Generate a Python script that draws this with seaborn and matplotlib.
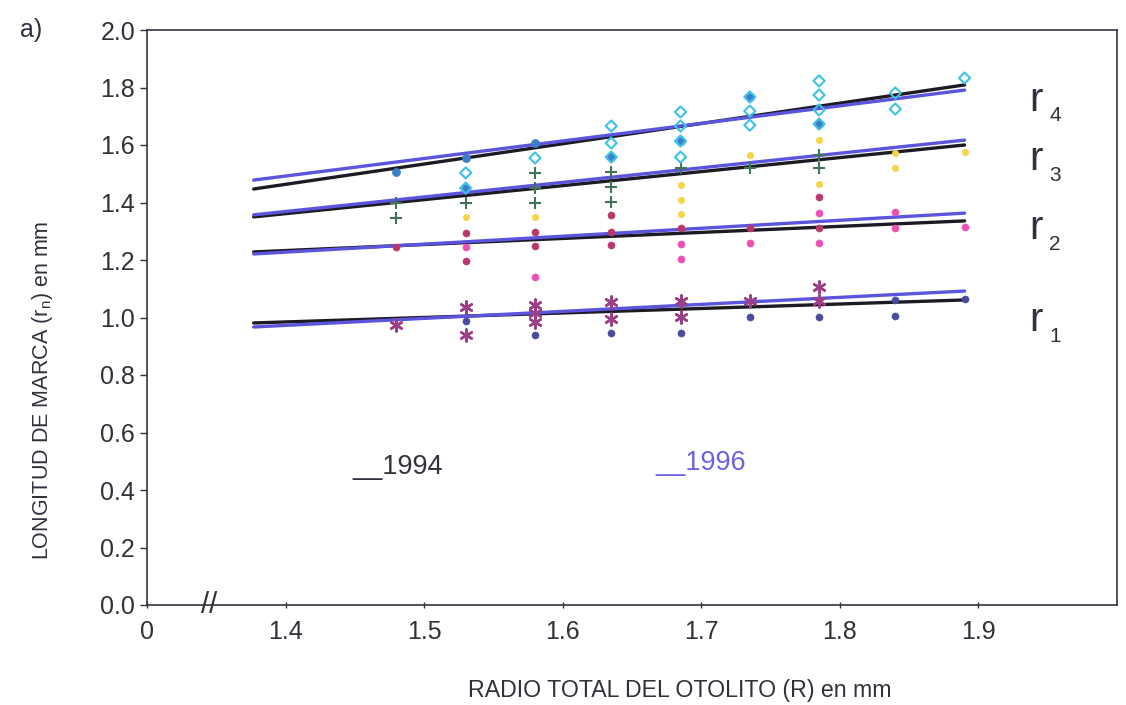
import matplotlib
matplotlib.use("Agg")
import matplotlib.pyplot as plt
import seaborn as sns
import pandas as pd

# ---- measurements: total otolith radius R (mm) vs ring length r_n (mm) ----
# r1
r1_1994_R = [1.53, 1.58, 1.635, 1.685, 1.735, 1.785, 1.84, 1.84, 1.89]
r1_1994_v = [0.988, 0.940, 0.946, 0.946, 1.002, 1.002, 1.061, 1.005, 1.064]
r1_1996_R = [1.48, 1.53, 1.53, 1.58, 1.58, 1.58, 1.635, 1.635, 1.685, 1.685, 1.735, 1.785, 1.785]
r1_1996_v = [0.975, 1.037, 0.939, 1.043, 1.016, 0.985, 1.054, 0.996, 1.057, 1.002, 1.057, 1.106, 1.057]
# r2
r2_1994_R = [1.48, 1.53, 1.53, 1.58, 1.58, 1.635, 1.635, 1.635, 1.685, 1.735, 1.785, 1.785]
r2_1994_v = [1.245, 1.294, 1.197, 1.297, 1.249, 1.357, 1.297, 1.252, 1.311, 1.311, 1.419, 1.311]
r2_1996_R = [1.53, 1.58, 1.685, 1.685, 1.735, 1.785, 1.785, 1.84, 1.84, 1.89]
r2_1996_v = [1.245, 1.141, 1.256, 1.203, 1.259, 1.364, 1.259, 1.367, 1.311, 1.315]
# r3
r3_1994_R = [1.48, 1.48, 1.53, 1.58, 1.58, 1.58, 1.635, 1.635, 1.635, 1.685, 1.735, 1.785, 1.785]
r3_1994_v = [1.398, 1.345, 1.398, 1.503, 1.450, 1.398, 1.506, 1.454, 1.402, 1.520, 1.520, 1.565, 1.520]
r3_1996_R = [1.53, 1.58, 1.685, 1.685, 1.685, 1.735, 1.785, 1.785, 1.84, 1.84, 1.89]
r3_1996_v = [1.350, 1.350, 1.461, 1.409, 1.360, 1.565, 1.617, 1.464, 1.572, 1.520, 1.576]
# r4
r4_1994_R = [1.48, 1.53, 1.53, 1.58, 1.635, 1.685, 1.735, 1.785]
r4_1994_v = [1.507, 1.555, 1.450, 1.607, 1.558, 1.614, 1.767, 1.673]
r4_1996_R = [1.53, 1.53, 1.58, 1.635, 1.635, 1.635, 1.685, 1.685, 1.685, 1.685,
             1.735, 1.735, 1.735, 1.785, 1.785, 1.785, 1.785, 1.84, 1.84, 1.89]
r4_1996_v = [1.503, 1.450, 1.555, 1.666, 1.607, 1.558, 1.715, 1.666, 1.614, 1.558,
             1.767, 1.718, 1.669, 1.823, 1.774, 1.722, 1.673, 1.781, 1.725, 1.833]

# fitted regression lines (value at both ends of fit_R)
fit_R = [1.377, 1.89]
fit_1994 = [[0.981, 1.061], [1.228, 1.336], [1.350, 1.600], [1.447, 1.809]]
fit_1996 = [[0.967, 1.092], [1.221, 1.363], [1.357, 1.617], [1.478, 1.791]]

ring_names = ["1", "2", "3", "4"]
x_ticks = [1.3, 1.4, 1.5, 1.6, 1.7, 1.8, 1.9]
x_tick_labels = ["0", "1.4", "1.5", "1.6", "1.7", "1.8", "1.9"]
y_ticks = [0.0, 0.2, 0.4, 0.6, 0.8, 1.0, 1.2, 1.4, 1.6, 1.8, 2.0]
year_labels = ["1994", "1996"]

sns.set_style("ticks")
plt.rcParams["font.family"] = ["Liberation Sans", "DejaVu Sans"]
plt.rcParams["mathtext.fontset"] = "custom"
plt.rcParams["mathtext.rm"] = "Liberation Sans"
plt.rcParams["mathtext.it"] = "Liberation Sans"

fig = plt.figure(figsize=(11.26, 7.05), dpi=100)
ax = fig.add_axes([147 / 1126, 1 - 605 / 705, (1117 - 147) / 1126, (605 - 30) / 705])

COL94 = "#1c1a22"
COL96 = "#5a55dc"
TXT = "#352f3c"

# regression lines
for i in range(4):
    sns.lineplot(x=fit_R, y=fit_1994[i], color=COL94, lw=2.4, ax=ax,
                 estimator=None, sort=False, zorder=3)
    sns.lineplot(x=fit_R, y=fit_1996[i], color=COL96, lw=2.4, ax=ax,
                 estimator=None, sort=False, zorder=3)

# scatter points
def pts(R, v, **kw):
    df = pd.DataFrame({"R": R, "v": v})
    sns.scatterplot(data=df, x="R", y="v", ax=ax, zorder=4, legend=False, **kw)

pts(r1_1994_R, r1_1994_v, marker="o", s=26, color="#4a4a9e", edgecolor="#4a4a9e")
pts(r1_1996_R, r1_1996_v, marker=(6, 2, 0), s=75, color="#9a3f88", linewidth=1.8)
pts(r2_1994_R, r2_1994_v, marker="o", s=26, color="#b8386c", edgecolor="#b8386c")
pts(r2_1996_R, r2_1996_v, marker="o", s=26, color="#ee4fb4", edgecolor="#ee4fb4")
pts(r3_1994_R, r3_1994_v, marker="+", s=85, color="#3f7458", linewidth=1.5)
pts(r3_1996_R, r3_1996_v, marker="o", s=22, color="#f4d548", edgecolor="#f4d548")
pts(r4_1994_R, r4_1994_v, marker="o", s=34, color="#3c7fc8", edgecolor="#3c7fc8")
pts(r4_1996_R, r4_1996_v, marker="D", s=32, facecolor="none", edgecolor="#3cc2e8",
    linewidth=1.5)

ax.set_xlim(1.3, 2.0)
ax.set_ylim(0.0, 2.0)
ax.set_xticks(x_ticks)
ax.set_xticklabels(x_tick_labels)
ax.set_yticks(y_ticks)
ax.set_yticklabels([f"{t:.1f}" for t in y_ticks])
ax.tick_params(axis="both", labelsize=18, colors=TXT, length=5, width=1)
ax.tick_params(axis="x", direction="inout", pad=8)
ax.set_xlabel("")
ax.set_ylabel("")
for sp in ax.spines.values():
    sp.set_color("#3b3142")
    sp.set_linewidth(1.2)

# axis break mark
ax.text(1.345, 0.0, "//", ha="center", va="center", fontsize=21, color=TXT,
        clip_on=False, zorder=6)

# ring labels on the right
ring_y = [0.99, 1.31, 1.55, 1.757]
for name, yv in zip(ring_names, ring_y):
    ax.text(1.937, yv, "r", fontsize=29, color=TXT, ha="left", va="center")
    ax.text(1.951, yv - 0.055, name, fontsize=15, color=TXT, ha="left", va="center")

# year key
ax.text(1.448, 0.48, "__" + year_labels[0], fontsize=19.5, color=TXT, ha="left", va="center")
ax.text(1.667, 0.495, "__" + year_labels[1], fontsize=19.5, color="#6a62e2", ha="left", va="center")

fig.text(20 / 1126, 1 - 30 / 705, "a)", fontsize=18, color=TXT, ha="left", va="center")
fig.text(680 / 1126, 1 - 690 / 705, "RADIO TOTAL DEL OTOLITO (R) en mm", fontsize=16.7,
         color=TXT, ha="center", va="center")
fig.text(43 / 1126, 1 - 390 / 705, r"LONGITUD DE MARCA (r$_{\mathregular{n}}$) en mm",
         fontsize=15.5, color=TXT, ha="center", va="center", rotation=90)

fig.savefig("out.png", dpi=100)
